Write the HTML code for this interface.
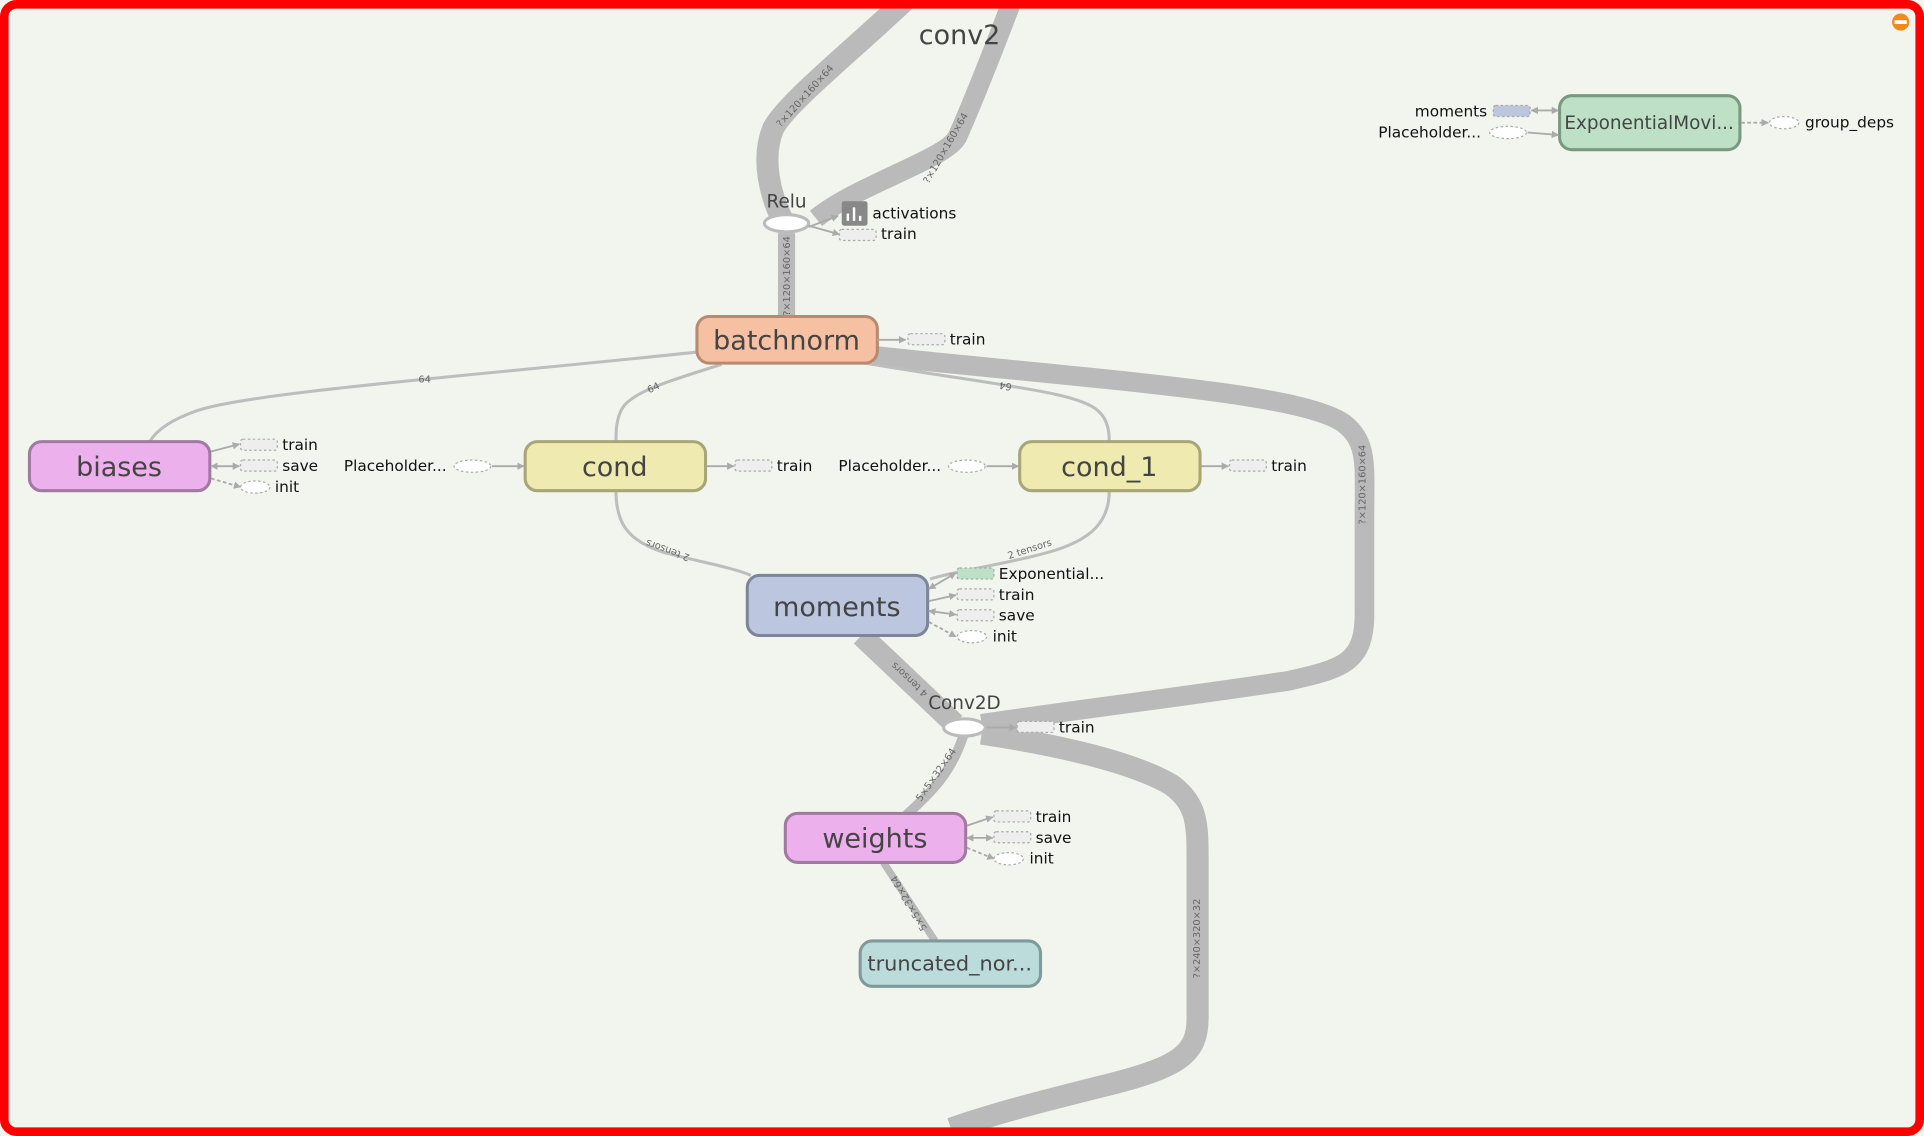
<!DOCTYPE html>
<html><head><meta charset="utf-8"><style>
html,body{margin:0;padding:0;background:#f1f5ee;}
svg{display:block;}
text{font-family:"DejaVu Sans","Liberation Sans",sans-serif;}
</style></head><body>
<svg width="1924" height="1136" viewBox="0 0 1568 926" preserveAspectRatio="none" xmlns="http://www.w3.org/2000/svg">
<defs>
<marker id="ar" viewBox="0 0 10 10" refX="9" refY="5" markerWidth="4" markerHeight="4" orient="auto"><path d="M0,0L10,5L0,10z" fill="#aaa"/></marker>
<marker id="al" viewBox="0 0 10 10" refX="1" refY="5" markerWidth="4" markerHeight="4" orient="auto"><path d="M10,0L0,5L10,10z" fill="#aaa"/></marker>
</defs>
<rect x="0" y="0" width="1568" height="926" fill="#f1f5ee"/>
<g fill="none" stroke="#bababa" stroke-linecap="butt">
<path d="M738,0 C690,45 640,85 630,105 C620,130 628,160 638,180" stroke-width="18"/>
<path d="M825,0 C810,40 790,90 780,112 C770,130 700,150 665,178" stroke-width="16"/>
<path d="M641,190 L641,258" stroke-width="14"/>
<path d="M712,290 C900,310 1060,320 1095,345 C1115,360 1112,380 1112,420 L1112,500 C1112,540 1095,545 1050,555 C950,570 880,578 800,590" stroke-width="16"/>
<path d="M702,518 L778,590" stroke-width="18"/>
<path d="M800,598 C880,610 930,625 955,640 C975,655 976,670 976,700 L976,830 C976,860 960,870 900,885 C840,900 810,908 775,920" stroke-width="18"/>
<path d="M785,600 C775,630 760,645 738,665" stroke-width="8"/>
<path d="M720,703 L762,767" stroke-width="6"/>
</g>
<g fill="none" stroke="#bdbdbd" stroke-width="2.5">
<path d="M568,287 C400,305 200,320 160,335 C140,342 128,350 122,360"/>
<path d="M588,297 C540,312 515,320 507,333 C502,342 502,352 502,360"/>
<path d="M705,296 C820,315 880,320 895,335 C903,342 904,352 904,360"/>
<path d="M502,400 C502,425 510,440 540,450 C570,458 595,462 612,469"/>
<path d="M904,400 C904,425 890,440 855,450 C820,460 780,465 758,472"/>
</g>
<g fill="#666" font-size="8">
<text x="658" y="80" transform="rotate(-48 658 80)" text-anchor="middle">?×120×160×64</text>
<text x="773" y="122" transform="rotate(-60 773 122)" text-anchor="middle">?×120×160×64</text>
<text x="644" y="225" transform="rotate(-90 644 225)" text-anchor="middle">?×120×160×64</text>
<text x="1113" y="395" transform="rotate(-90 1113 395)" text-anchor="middle">?×120×160×64</text>
<text x="978" y="765" transform="rotate(-90 978 765)" text-anchor="middle">?×240×320×32</text>
<text x="765" y="633" transform="rotate(-55 765 633)" text-anchor="middle">5×5×32×64</text>
<text x="743" y="735" transform="rotate(240 743 735)" text-anchor="middle">5×5×32×64</text>
<text x="743" y="552" transform="rotate(223 743 552)" text-anchor="middle">4 tensors</text>
<text x="545" y="446" transform="rotate(200 545 446)" text-anchor="middle">2 tensors</text>
<text x="840" y="450" transform="rotate(-18 840 450)" text-anchor="middle">2 tensors</text>
<text x="341" y="312">64</text>
<text x="528" y="320" transform="rotate(-25 530 318)">64</text>
<text x="815" y="312" transform="rotate(190 820 312)">64</text>
</g>
<g stroke-width="2.5">
<rect x="568" y="258" width="147" height="38" rx="10" fill="#f6c0a2" stroke="#b88a70"/>
<rect x="24" y="360" width="147" height="40" rx="10" fill="#ecb0ec" stroke="#a07aa0"/>
<rect x="428" y="360" width="147" height="40" rx="10" fill="#eeeab0" stroke="#a8a678"/>
<rect x="831" y="360" width="147" height="40" rx="10" fill="#eeeab0" stroke="#a8a678"/>
<rect x="609" y="469" width="147" height="49" rx="10" fill="#bcc6df" stroke="#7d8598"/>
<rect x="640" y="663" width="147" height="40" rx="10" fill="#ecb0ec" stroke="#a07aa0"/>
<rect x="701" y="767" width="147" height="37" rx="10" fill="#bcdcdc" stroke="#7f9a9a"/>
<rect x="1271" y="78" width="147" height="44" rx="10" fill="#bee0c6" stroke="#7a9a80"/>
<ellipse cx="641" cy="182" rx="18" ry="7" fill="#fff" stroke="#bbb"/>
<ellipse cx="786" cy="593" rx="17" ry="7" fill="#fff" stroke="#bbb"/>
</g>
<g fill="#444" text-anchor="middle">
<text x="641" y="285" font-size="22">batchnorm</text>
<text x="97" y="388" font-size="22">biases</text>
<text x="501" y="388" font-size="22">cond</text>
<text x="904" y="388" font-size="22">cond_1</text>
<text x="682" y="502" font-size="22">moments</text>
<text x="713" y="691" font-size="22">weights</text>
<text x="774" y="791" font-size="17">truncated_nor...</text>
<text x="1344" y="105" font-size="15">ExponentialMovi...</text>
<text x="782" y="36" font-size="22">conv2</text>
<text x="641" y="169" font-size="15">Relu</text>
<text x="786" y="578" font-size="15">Conv2D</text>
</g>
<g stroke="#aaa" stroke-dasharray="2,2" stroke-width="1" fill="#eeeeee">
<rect x="740" y="272" width="30" height="9" rx="2"/>
<rect x="684" y="187" width="30" height="9" rx="2"/>
<rect x="196" y="358" width="30" height="9" rx="2"/>
<rect x="196" y="375" width="30" height="9" rx="2"/>
<ellipse cx="208" cy="397" rx="12" ry="5" fill="#fff"/>
<rect x="599" y="375" width="30" height="9" rx="2"/>
<rect x="1002" y="375" width="30" height="9" rx="2"/>
<ellipse cx="385" cy="380" rx="15" ry="5" fill="#fff"/>
<ellipse cx="788" cy="380" rx="15" ry="5" fill="#fff"/>
<rect x="780" y="463" width="30" height="9" rx="2" fill="#bee0c6"/>
<rect x="780" y="480" width="30" height="9" rx="2"/>
<rect x="780" y="497" width="30" height="9" rx="2"/>
<ellipse cx="792" cy="519" rx="12" ry="5" fill="#fff"/>
<rect x="829" y="588" width="30" height="9" rx="2"/>
<rect x="810" y="661" width="30" height="9" rx="2"/>
<rect x="810" y="678" width="30" height="9" rx="2"/>
<ellipse cx="822" cy="700" rx="12" ry="5" fill="#fff"/>
<rect x="1217" y="86" width="30" height="9" rx="2" fill="#bcc6df"/>
<ellipse cx="1229" cy="108" rx="15" ry="5" fill="#fff"/>
<ellipse cx="1454" cy="100" rx="12" ry="5" fill="#fff"/>
</g>
<rect x="686" y="164" width="21" height="20" rx="2" fill="#888"/>
<g stroke="#fff" stroke-width="2"><path d="M691,180V174M696,180V169M701,180V176"/></g>
<g stroke="#aaa" stroke-width="1.5" fill="none" marker-end="url(#ar)">
<path d="M715,277L738,277"/>
<path d="M659,185L683,176"/>
<path d="M659,184L684,191"/>
<path d="M172,368L195,362"/>
<path d="M172,380L195,380" marker-start="url(#al)"/>
<path d="M172,390L196,397" stroke-dasharray="3,2"/>
<path d="M576,380L598,380"/>
<path d="M979,380L1001,380"/>
<path d="M401,380L427,380"/>
<path d="M804,380L830,380"/>
<path d="M757,480L779,467" marker-start="url(#al)"/>
<path d="M757,490L779,485"/>
<path d="M757,498L779,501" marker-start="url(#al)"/>
<path d="M757,507L779,519" stroke-dasharray="3,2"/>
<path d="M804,593L828,593"/>
<path d="M788,673L809,666"/>
<path d="M788,683L809,683" marker-start="url(#al)"/>
<path d="M788,691L810,700" stroke-dasharray="3,2"/>
<path d="M1248,90L1270,90" marker-start="url(#al)"/>
<path d="M1245,108L1270,110"/>
<path d="M1419,100L1441,100" stroke-dasharray="3,2"/>
</g>
<g fill="#111" font-size="12.5">
<text x="774" y="281">train</text>
<text x="711" y="178">activations</text>
<text x="718" y="195">train</text>
<text x="230" y="367">train</text>
<text x="230" y="384">save</text>
<text x="224" y="401">init</text>
<text x="633" y="384">train</text>
<text x="1036" y="384">train</text>
<text x="364" y="384" text-anchor="end">Placeholder...</text>
<text x="767" y="384" text-anchor="end">Placeholder...</text>
<text x="814" y="472">Exponential...</text>
<text x="814" y="489">train</text>
<text x="814" y="506">save</text>
<text x="809" y="523">init</text>
<text x="863" y="597">train</text>
<text x="844" y="670">train</text>
<text x="844" y="687">save</text>
<text x="839" y="704">init</text>
<text x="1212" y="95" text-anchor="end">moments</text>
<text x="1207" y="112" text-anchor="end">Placeholder...</text>
<text x="1471" y="104">group_deps</text>
</g>
<circle cx="1549" cy="18" r="7" fill="#f08a1a"/>
<rect x="1544" y="16.5" width="10" height="3" fill="#fff"/>
<rect x="3.5" y="3.5" width="1561" height="919" rx="10" fill="none" stroke="#ff0000" stroke-width="7"/>
</svg>
</body></html>
